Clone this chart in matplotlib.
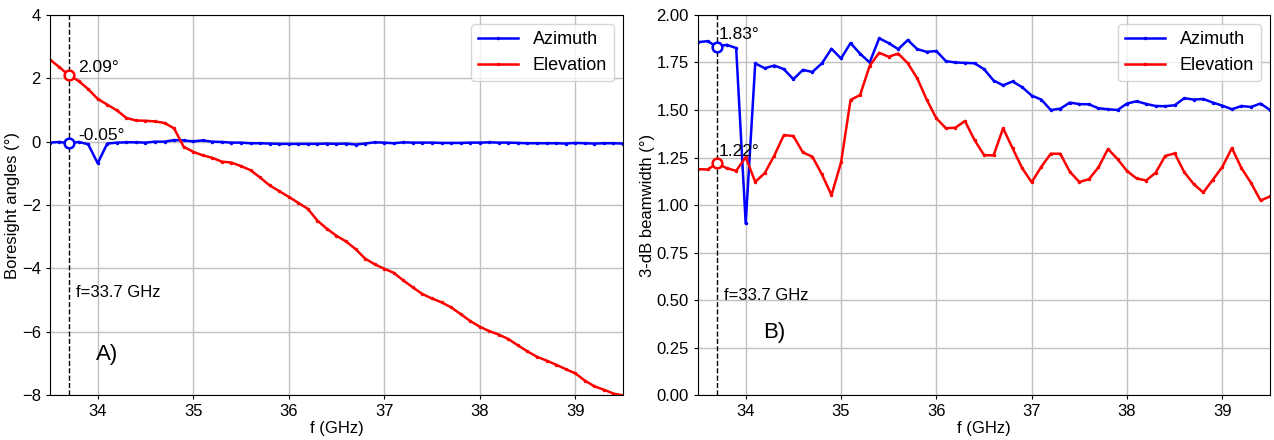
import matplotlib
import numpy as np

matplotlib.use("Agg")
import matplotlib.pyplot as plt  # noqa: E402

plt.rcParams["font.family"] = ["Liberation Sans", "DejaVu Sans"]

# frequency grid 33.5 .. 39.5 GHz in 0.1 GHz steps
FREQ = np.round(np.arange(335, 396) / 10.0, 1)
F_MARK = 33.7

# boresight angles (deg)
BORE_AZ = [
    -0.03, -0.01, -0.05, -0.01, -0.08, -0.68, -0.06, -0.03, -0.02, -0.02,
    -0.03, 0.00, 0.00, 0.05, 0.04, 0.01, 0.04, 0.00, -0.01, -0.03,
    -0.03, -0.05, -0.05, -0.06, -0.07, -0.07, -0.07, -0.07, -0.07, -0.06,
    -0.07, -0.06, -0.09, -0.06, -0.02, -0.03, -0.05, -0.02, -0.03, -0.03,
    -0.03, -0.04, -0.04, -0.04, -0.03, -0.03, -0.02, -0.03, -0.03, -0.04,
    -0.05, -0.05, -0.05, -0.05, -0.06, -0.04, -0.05, -0.06, -0.05, -0.05,
    -0.06,
]
BORE_EL = [
    2.59, 2.35, 2.09, 1.92, 1.66, 1.35, 1.17, 0.99, 0.75, 0.67,
    0.66, 0.64, 0.59, 0.42, -0.16, -0.32, -0.43, -0.51, -0.63, -0.66,
    -0.77, -0.90, -1.13, -1.38, -1.56, -1.74, -1.93, -2.12, -2.49, -2.75,
    -2.97, -3.15, -3.39, -3.69, -3.87, -4.01, -4.14, -4.38, -4.60, -4.81,
    -4.95, -5.07, -5.23, -5.44, -5.66, -5.84, -5.98, -6.09, -6.23, -6.43,
    -6.62, -6.79, -6.91, -7.04, -7.18, -7.31, -7.54, -7.72, -7.83, -7.95,
    -8.01,
]

# 3-dB beamwidth (deg)
BW_AZ = [
    1.857, 1.862, 1.833, 1.843, 1.826, 0.903, 1.745, 1.720, 1.734, 1.715,
    1.662, 1.711, 1.700, 1.746, 1.822, 1.771, 1.852, 1.796, 1.750, 1.877,
    1.852, 1.820, 1.868, 1.820, 1.806, 1.810, 1.757, 1.750, 1.748, 1.746,
    1.715, 1.655, 1.630, 1.650, 1.620, 1.576, 1.555, 1.500, 1.507, 1.539,
    1.531, 1.530, 1.509, 1.504, 1.500, 1.534, 1.546, 1.532, 1.521, 1.520,
    1.525, 1.562, 1.555, 1.558, 1.539, 1.523, 1.504, 1.521, 1.516, 1.534,
    1.500,
]
BW_EL = [
    1.189, 1.187, 1.219, 1.194, 1.180, 1.252, 1.122, 1.168, 1.260, 1.368,
    1.363, 1.277, 1.254, 1.161, 1.052, 1.224, 1.553, 1.579, 1.732, 1.801,
    1.780, 1.797, 1.746, 1.666, 1.553, 1.456, 1.404, 1.407, 1.442, 1.342,
    1.263, 1.261, 1.404, 1.298, 1.194, 1.120, 1.201, 1.270, 1.270, 1.175,
    1.121, 1.136, 1.198, 1.295, 1.242, 1.179, 1.140, 1.129, 1.170, 1.258,
    1.272, 1.173, 1.110, 1.066, 1.133, 1.201, 1.300, 1.194, 1.117, 1.024,
    1.045,
]


def _panel(ax, az, el, ylim, yticks, ylabel, txt_y, tag, tag_xy,
           lbl_dx, lbl_dy):
    ax.plot(FREQ, az, color="blue", lw=1.8, marker=".", ms=3, label="Azimuth")
    ax.plot(FREQ, el, color="red", lw=1.8, marker=".", ms=3, label="Elevation")
    i = int(np.argmin(np.abs(FREQ - F_MARK)))
    ax.axvline(F_MARK, color="black", ls="--", lw=1)
    for vals, col in ((az, "blue"), (el, "red")):
        ax.plot(FREQ[i], vals[i], "o", ms=7, mfc="white", mec=col, mew=1.8,
                zorder=5)
        ax.text(FREQ[i] + lbl_dx, vals[i] + lbl_dy, f"{vals[i]:.2f}°",
                fontsize=12.5)
    ax.text(F_MARK + 0.07, txt_y, f"f={F_MARK} GHz", fontsize=12)
    ax.text(tag_xy[0], tag_xy[1], tag, fontsize=16)
    ax.set_xlim(33.5, 39.5)
    ax.set_ylim(*ylim)
    ax.set_yticks(yticks)
    ax.set_xticks([34, 35, 36, 37, 38, 39])
    ax.set_xlabel("f (GHz)", fontsize=12, labelpad=1)
    ax.set_ylabel(ylabel, fontsize=12, labelpad=1)
    ax.tick_params(labelsize=12, length=3)
    ax.grid(True, color="#c0c0c0", lw=1)
    ax.set_axisbelow(True)
    ax.legend(loc="upper right", fontsize=13, handlelength=2.2)


def main():
    fig = plt.figure(figsize=(12.74, 4.4), dpi=100)
    ax1 = fig.add_axes([0.0392, 0.102, 0.4498, 0.864])
    ax2 = fig.add_axes([0.5479, 0.102, 0.4490, 0.864])

    _panel(ax1, BORE_AZ, BORE_EL, (-8, 4), np.arange(-8, 5, 2),
           "Boresight angles (°)", -4.9, "A)", (33.98, -6.9), 0.1, 0.1)
    _panel(ax2, BW_AZ, BW_EL, (0, 2.0), np.arange(0, 2.01, 0.25),
           "3-dB beamwidth (°)", 0.5, "B)", (34.18, 0.3), 0.02, 0.04)
    ax2.yaxis.set_major_formatter(matplotlib.ticker.FormatStrFormatter("%.2f"))

    fig.savefig("out.png", dpi=100)


if __name__ == "__main__":
    main()
